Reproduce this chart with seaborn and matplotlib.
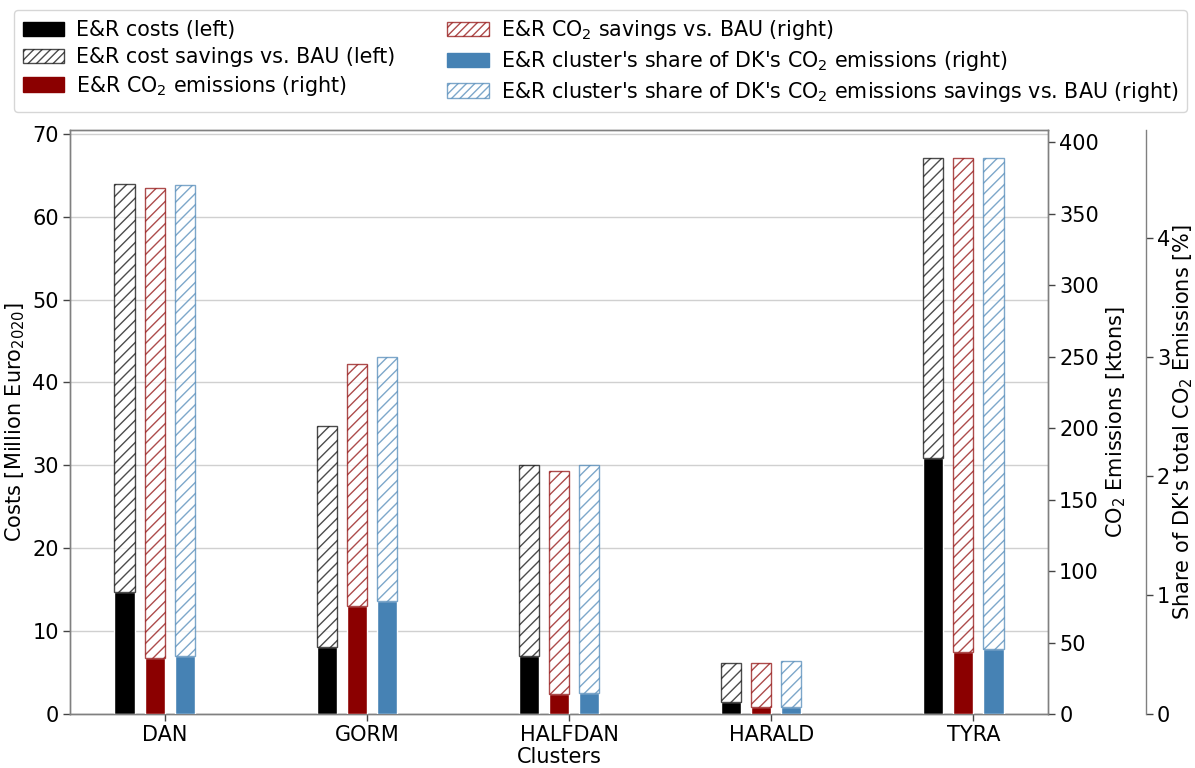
import numpy as np
import matplotlib
matplotlib.use("Agg")
import matplotlib.pyplot as plt
import seaborn as sns
from matplotlib.patches import Patch

# ---- data ----
clusters = ["DAN", "GORM", "HALFDAN", "HARALD", "TYRA"]
costs = [14.7, 8.1, 7.0, 1.4, 30.9]                 # Million Euro2020
cost_savings = [49.3, 26.6, 23.1, 4.7, 36.2]         # Million Euro2020
co2_emissions = [39.0, 75.5, 14.0, 4.6, 43.5]        # ktons
co2_savings = [329.0, 169.5, 156.0, 31.4, 345.5]     # ktons
share = [0.488, 0.948, 0.174, 0.063, 0.544]          # %
share_savings = [3.96, 2.05, 1.92, 0.383, 4.13]      # %

legend_labels = [
    "E&R costs (left)",
    "E&R cost savings vs. BAU (left)",
    "E&R CO$_2$ emissions (right)",
    "E&R CO$_2$ savings vs. BAU (right)",
    "E&R cluster's share of DK's CO$_2$ emissions (right)",
    "E&R cluster's share of DK's CO$_2$ emissions savings vs. BAU (right)",
]

sns.set_theme(style="white")
plt.rcParams["font.family"] = ["DejaVu Sans"]
plt.rcParams["hatch.linewidth"] = 1.0
plt.rcParams["text.color"] = "black"
plt.rcParams["axes.labelcolor"] = "black"
plt.rcParams["xtick.color"] = "black"
plt.rcParams["ytick.color"] = "black"

fig = plt.figure(figsize=(11.95, 7.68), dpi=100)
ax = fig.add_axes([0.0586, 0.0703, 0.8184, 0.7604])
ax2 = ax.twinx()
ax3 = ax.twinx()
ax3.spines["right"].set_position(("axes", 1.1))

x = np.arange(len(clusters))
w = 0.1
c_black, c_red, c_blue = "black", "#8B0000", "#4682B4"
alpha_h = 0.7
hatch = "///"

costs_a = np.array(costs); cs_a = np.array(cost_savings)
co2_a = np.array(co2_emissions); co2s_a = np.array(co2_savings)
sh_a = np.array(share); shs_a = np.array(share_savings)

ax.bar(x - 0.25, costs_a, w, align="edge", color=c_black, zorder=3)
ax.bar(x - 0.25, cs_a, w, bottom=costs_a, align="edge", facecolor="white",
       edgecolor=c_black, hatch=hatch, alpha=alpha_h, zorder=3)
ax2.bar(x - 0.10, co2_a, w, align="edge", color=c_red, zorder=3)
ax2.bar(x - 0.10, co2s_a, w, bottom=co2_a, align="edge", facecolor="white",
        edgecolor=c_red, hatch=hatch, alpha=alpha_h, zorder=3)
ax3.bar(x + 0.05, sh_a, w, align="edge", color=c_blue, zorder=3)
ax3.bar(x + 0.05, shs_a, w, bottom=sh_a, align="edge", facecolor="white",
        edgecolor=c_blue, hatch=hatch, alpha=alpha_h, zorder=3)

ax.set_ylim(0, 1.05 * (costs_a + cs_a).max())
ax2.set_ylim(0, 1.05 * (co2_a + co2s_a).max())
ax3.set_ylim(0, 1.05 * (sh_a + shs_a).max())
ax.set_yticks(np.arange(0, 71, 10))
ax2.set_yticks(np.arange(0, 401, 50))
ax3.set_yticks(np.arange(0, 5, 1))

ax.set_xticks(x)
ax.set_xticklabels(clusters)

fs = 15
ax.grid(axis="y", color="#d0d0d0", linewidth=1.0, zorder=0)
ax.set_axisbelow(True)
for a in (ax, ax2, ax3):
    a.tick_params(axis="both", labelsize=fs, length=5, width=1, color="#444444",
                  direction="out", pad=3)
    for s in a.spines.values():
        s.set_color("#808080")
        s.set_linewidth(1.0)
ax.tick_params(axis="x", bottom=True)
ax.tick_params(axis="y", left=True)
ax2.tick_params(axis="y", right=True)
ax3.tick_params(axis="y", right=True)
for s in ["top", "left", "bottom"]:
    ax3.spines[s].set_visible(False)

ax.set_ylabel("Costs [Million Euro$_{2020}$]", fontsize=fs, labelpad=4)
ax.set_xlabel("Clusters", fontsize=fs, labelpad=1)
ax2.set_ylabel("CO$_2$ Emissions [ktons]", fontsize=fs, labelpad=4)
ax3.set_ylabel("Share of DK's total CO$_2$ Emissions [%]", fontsize=fs, labelpad=1)

handles = [
    Patch(facecolor=c_black, edgecolor=c_black),
    Patch(facecolor="white", edgecolor=c_black, hatch="////", alpha=alpha_h),
    Patch(facecolor=c_red, edgecolor=c_red),
    Patch(facecolor="white", edgecolor=c_red, hatch="////", alpha=alpha_h),
    Patch(facecolor=c_blue, edgecolor=c_blue),
    Patch(facecolor="white", edgecolor=c_blue, hatch="////", alpha=alpha_h),
]
fig.legend(handles, legend_labels, loc="upper left", bbox_to_anchor=(0.012, 0.987),
           ncol=2, fontsize=14.9, frameon=True, edgecolor="#cccccc",
           columnspacing=2.5, handlelength=2.0, handletextpad=0.6,
           labelspacing=0.33, borderaxespad=0, borderpad=0.4)

fig.savefig("out.png", dpi=100)
